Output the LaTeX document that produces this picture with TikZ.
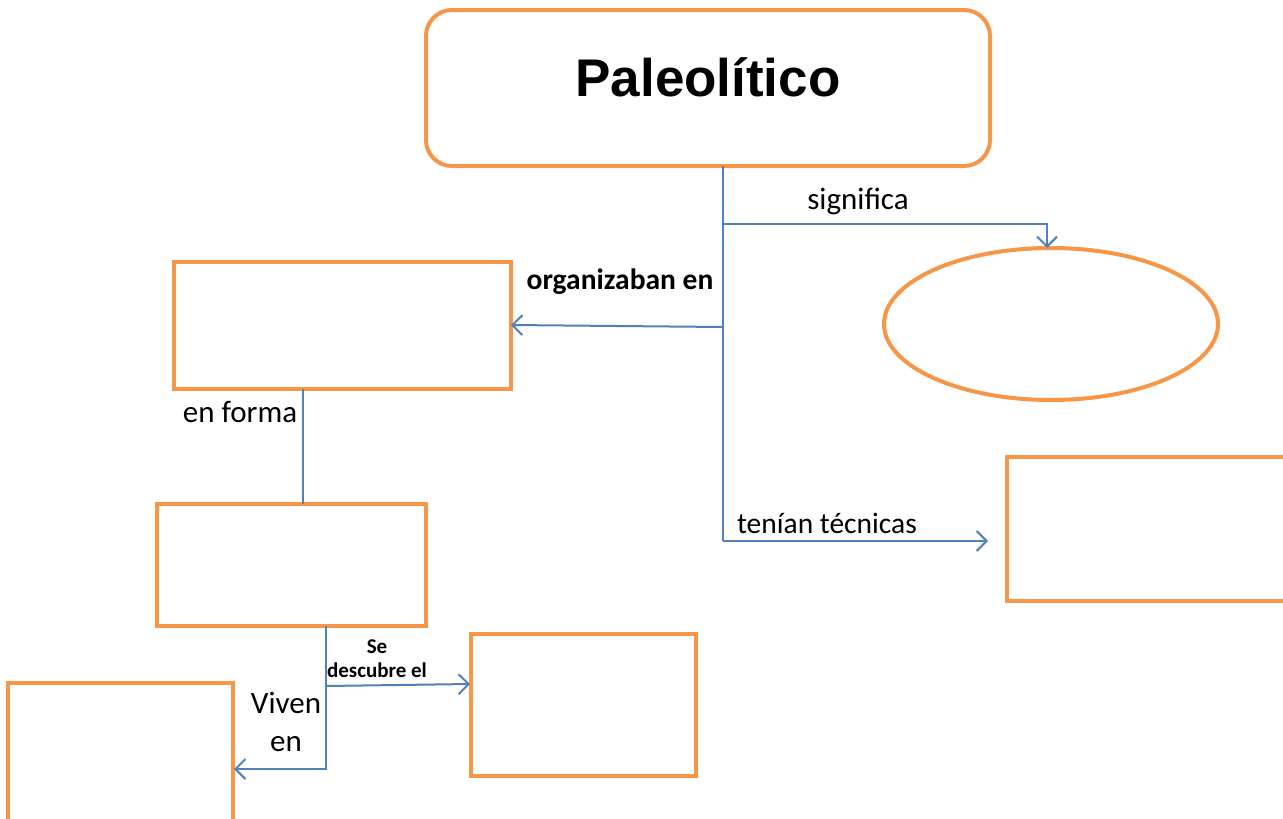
\documentclass[tikz,border=0pt]{standalone}
\usepackage{fontspec}
\setmainfont{Carlito}
\newfontfamily\titlefont{Liberation Sans}
\usetikzlibrary{arrows.meta,shapes.geometric}
\definecolor{orng}{HTML}{F79646}
\definecolor{blu}{HTML}{4F81BD}
\begin{document}
\begin{tikzpicture}[x=1pt,y=-1pt,
  box/.style={draw=orng,line width=4pt,fill=white},
  link/.style={draw=blu,line width=2pt},
  arr/.style={link,-{Straight Barb[length=10pt,width=20pt,line width=2pt]}},
  lbl/.style={font=\fontsize{31}{35}\selectfont,inner sep=0pt},
  blbl/.style={font=\fontsize{29.5}{33}\selectfont\bfseries,inner sep=0pt},
  slbl/.style={font=\fontsize{21}{24}\selectfont\bfseries,inner sep=0pt,align=center}]
\useasboundingbox (0,0) rectangle (1283,819);
% nodes
\draw[box,rounded corners=26pt] (426,10) rectangle (990,166);
\node[inner sep=0pt,font=\titlefont\fontsize{53}{60}\selectfont\bfseries] (title) at (708,77) {Paleolítico};
\coordinate (top) at (723,166);
\node[box,ellipse,minimum width=334pt,minimum height=152pt,inner sep=0pt] (ell) at (1051,324) {};
\node[box,minimum width=337pt,minimum height=127pt,inner sep=0pt] (b1) at (342.5,325.5) {};
\node[box,minimum width=269pt,minimum height=122pt,inner sep=0pt] (b2) at (291.5,565) {};
\node[box,minimum width=225pt,minimum height=142pt,inner sep=0pt] (b3) at (583.5,705) {};
\node[box,minimum width=225pt,minimum height=160pt,inner sep=0pt] (b4) at (120.5,763) {};
\node[box,minimum width=300pt,minimum height=144pt,inner sep=0pt] (b5) at (1157,529) {};
% coordinates
\coordinate (jS) at (723,224);
\coordinate (jSe) at (1047,224);
\coordinate (jO) at (723,327);
\coordinate (jT) at (723,541);
\coordinate (b2b) at (326,626);
\coordinate (jD) at (326,686);
\coordinate (jV) at (326,769);
% connectors
\draw[link] (top) -- (jT);
\draw[arr] (jS) -- (jSe) -- (1047,248);
\draw[arr] (jO) -- (511,325);
\draw[arr] (jT) -- (988,541);
\draw[link] (303,389) -- (303,504);
\draw[arr] (b2b) -- (jV) -- (234,769);
\draw[arr] (jD) -- (470,684);
% labels
\node[lbl] at (858,201) {significa};
\node[blbl] at (620,282) {organizaban en};
\node[lbl] at (240,412) {en forma};
\node[lbl,font=\fontsize{29.5}{33}\selectfont] at (827,523) {tenían técnicas};
\node[lbl,align=center,font=\fontsize{31}{38}\selectfont] at (286,722) {Viven\\en};
\node[slbl] at (377,659) {Se\\descubre el};
\end{tikzpicture}
\end{document}
